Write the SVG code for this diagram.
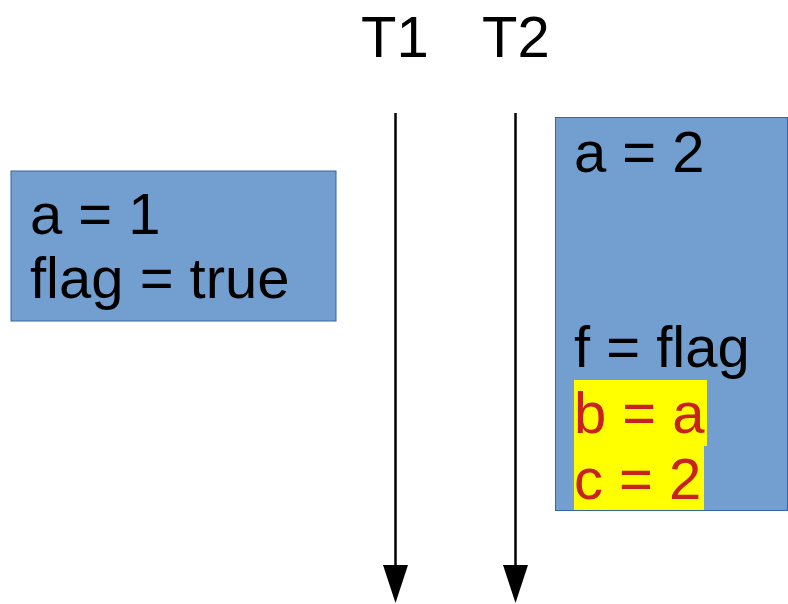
<svg xmlns="http://www.w3.org/2000/svg" width="788" height="604" viewBox="0 0 788 604">
<style>
text{font-family:"Liberation Sans",Arial,sans-serif;font-size:58px;fill:#000}
.box{fill:#729fcf;stroke:#3465a4;stroke-width:1}
.red{fill:#c9211e}
.hl{fill:#ffff00}
.line{stroke:#000;stroke-width:2.5;fill:none}
</style>
<rect width="788" height="604" fill="#fff"/>
<g id="T1">
<text x="361" y="57">T1</text>
</g>
<g id="T2">
<text x="482" y="57">T2</text>
</g>
<g id="box1">
<rect class="box" x="11" y="171" width="325" height="150"/>
<text x="30" y="234">a = 1</text>
<text x="30" y="298">flag = true</text>
</g>
<g id="box2">
<rect class="box" x="555.5" y="117.5" width="232" height="393"/>
<text x="574" y="172">a = 2</text>
<text x="574" y="367">f = flag</text>
<rect class="hl" x="574" y="380" width="133" height="66"/>
<rect class="hl" x="574" y="445" width="130" height="65"/>
<text class="red" x="574" y="433">b = a</text>
<text class="red" x="574" y="499">c = 2</text>
</g>
<g id="connectors">
<line class="line" x1="395.5" y1="113" x2="395.5" y2="567"/>
<polygon points="383,565 408,565 395.5,603"/>
<line class="line" x1="515.5" y1="113" x2="515.5" y2="567"/>
<polygon points="503,565 528,565 515.5,603"/>
</g>
</svg>
